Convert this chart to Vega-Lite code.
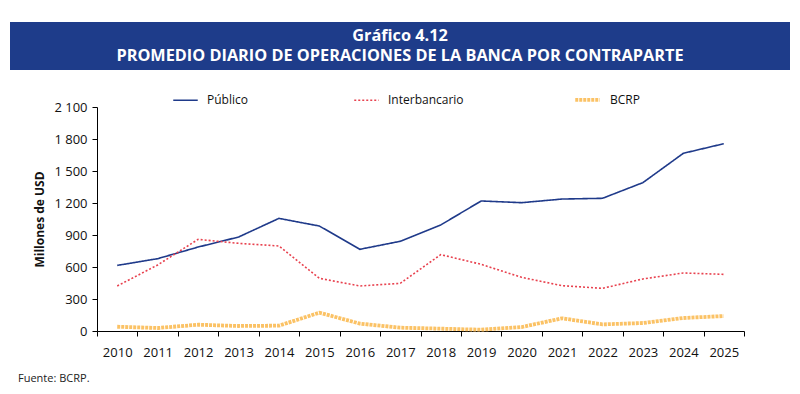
{
  "$schema": "https://vega.github.io/schema/vega-lite/v6.json",
  "padding": {"left": 10, "top": 22, "right": 10, "bottom": 5},
  "background": "white",
  "spacing": 31,
  "config": {"font": "Open Sans", "view": {"stroke": null}},
  "vconcat": [
    {
      "width": 780,
      "height": 48,
      "view": {"fill": "#1e3c8a", "stroke": null},
      "data": {"values": [
        {"line": 1, "t": "Gráfico 4.12"},
        {"line": 2, "t": "PROMEDIO DIARIO DE OPERACIONES DE LA BANCA POR CONTRAPARTE"}
      ]},
      "mark": {"type": "text", "color": "white", "fontWeight": "bold", "fontSize": 16.3, "font": "Open Sans", "baseline": "middle"},
      "encoding": {
        "y": {"field": "line", "type": "ordinal", "axis": null, "scale": {"type": "point", "padding": 0.7}},
        "text": {"field": "t"}
      }
    },
    {
      "width": 780,
      "height": 224,
      "title": {"text": "Fuente: BCRP.", "orient": "bottom", "anchor": "start", "frame": "group", "dx": 8, "offset": 14, "fontSize": 11, "fontWeight": "normal", "color": "#222222"},
      "data": {"values": [
        {"year": "2010", "serie": "Público", "v": 615},
        {"year": "2011", "serie": "Público", "v": 678},
        {"year": "2012", "serie": "Público", "v": 787},
        {"year": "2013", "serie": "Público", "v": 881},
        {"year": "2014", "serie": "Público", "v": 1056},
        {"year": "2015", "serie": "Público", "v": 984},
        {"year": "2016", "serie": "Público", "v": 766},
        {"year": "2017", "serie": "Público", "v": 841},
        {"year": "2018", "serie": "Público", "v": 994},
        {"year": "2019", "serie": "Público", "v": 1219},
        {"year": "2020", "serie": "Público", "v": 1203},
        {"year": "2021", "serie": "Público", "v": 1237},
        {"year": "2022", "serie": "Público", "v": 1244},
        {"year": "2023", "serie": "Público", "v": 1391},
        {"year": "2024", "serie": "Público", "v": 1666},
        {"year": "2025", "serie": "Público", "v": 1756},
        {"year": "2010", "serie": "Interbancario", "v": 422},
        {"year": "2011", "serie": "Interbancario", "v": 619},
        {"year": "2012", "serie": "Interbancario", "v": 859},
        {"year": "2013", "serie": "Interbancario", "v": 822},
        {"year": "2014", "serie": "Interbancario", "v": 797},
        {"year": "2015", "serie": "Interbancario", "v": 494},
        {"year": "2016", "serie": "Interbancario", "v": 422},
        {"year": "2017", "serie": "Interbancario", "v": 447},
        {"year": "2018", "serie": "Interbancario", "v": 716},
        {"year": "2019", "serie": "Interbancario", "v": 625},
        {"year": "2020", "serie": "Interbancario", "v": 503},
        {"year": "2021", "serie": "Interbancario", "v": 425},
        {"year": "2022", "serie": "Interbancario", "v": 400},
        {"year": "2023", "serie": "Interbancario", "v": 488},
        {"year": "2024", "serie": "Interbancario", "v": 544},
        {"year": "2025", "serie": "Interbancario", "v": 531},
        {"year": "2010", "serie": "BCRP", "v": 40},
        {"year": "2011", "serie": "BCRP", "v": 28},
        {"year": "2012", "serie": "BCRP", "v": 59},
        {"year": "2013", "serie": "BCRP", "v": 47},
        {"year": "2014", "serie": "BCRP", "v": 50},
        {"year": "2015", "serie": "BCRP", "v": 172},
        {"year": "2016", "serie": "BCRP", "v": 69},
        {"year": "2017", "serie": "BCRP", "v": 31},
        {"year": "2018", "serie": "BCRP", "v": 22},
        {"year": "2019", "serie": "BCRP", "v": 12},
        {"year": "2020", "serie": "BCRP", "v": 37},
        {"year": "2021", "serie": "BCRP", "v": 119},
        {"year": "2022", "serie": "BCRP", "v": 62},
        {"year": "2023", "serie": "BCRP", "v": 75},
        {"year": "2024", "serie": "BCRP", "v": 122},
        {"year": "2025", "serie": "BCRP", "v": 140}
      ]},
      "mark": {"type": "line", "strokeCap": "butt"},
      "encoding": {
        "x": {
          "field": "year", "type": "ordinal",
          "scale": {"type": "band", "paddingInner": 0, "paddingOuter": 0, "range": [87, 734], "round": false},
          "axis": {"title": null, "labelAngle": 0, "tickBand": "extent", "domainColor": "#000000", "tickColor": "#000000", "tickSize": 5, "labelFontSize": 13, "labelColor": "#111111", "labelPadding": 10, "grid": false}
        },
        "y": {
          "field": "v", "type": "quantitative",
          "scale": {"domain": [0, 2100], "nice": false},
          "axis": {"title": "Millones de USD", "offset": -87, "titleFontSize": 12, "titleFontWeight": "bold", "titleColor": "#111111", "titlePadding": 7, "values": [0, 300, 600, 900, 1200, 1500, 1800, 2100], "labelExpr": "replace(format(datum.value, ','), ',', ' ')", "grid": false, "domainColor": "#000000", "tickColor": "#000000", "tickSize": 5, "labelFontSize": 13, "labelColor": "#111111", "labelPadding": 5}
        },
        "color": {
          "field": "serie", "type": "nominal",
          "scale": {"domain": ["Público", "Interbancario", "BCRP"], "range": ["#1f3a8a", "#e8424f", "#fbc265"]},
          "legend": {"orient": "none", "legendX": 162, "legendY": 63, "direction": "horizontal", "title": null, "symbolType": "stroke", "symbolSize": 600, "labelFontSize": 12, "labelColor": "#111111", "labelOffset": 8, "columnPadding": 103}
        },
        "strokeDash": {
          "field": "serie", "type": "nominal",
          "scale": {"domain": ["Público", "Interbancario", "BCRP"], "range": [[1, 0], [2, 2], [3, 1]]},
          "legend": {"orient": "none", "legendX": 162, "legendY": 63, "direction": "horizontal", "title": null, "symbolType": "stroke", "symbolSize": 600, "labelFontSize": 12, "labelColor": "#111111", "labelOffset": 8, "columnPadding": 103}
        },
        "strokeWidth": {
          "field": "serie", "type": "nominal",
          "scale": {"type": "ordinal", "domain": ["Público", "Interbancario", "BCRP"], "range": [1.6, 1.6, 3.8]},
          "legend": {"orient": "none", "legendX": 162, "legendY": 63, "direction": "horizontal", "title": null, "symbolType": "stroke", "symbolSize": 600, "labelFontSize": 12, "labelColor": "#111111", "labelOffset": 8, "columnPadding": 103}
        }
      }
    }
  ]
}
